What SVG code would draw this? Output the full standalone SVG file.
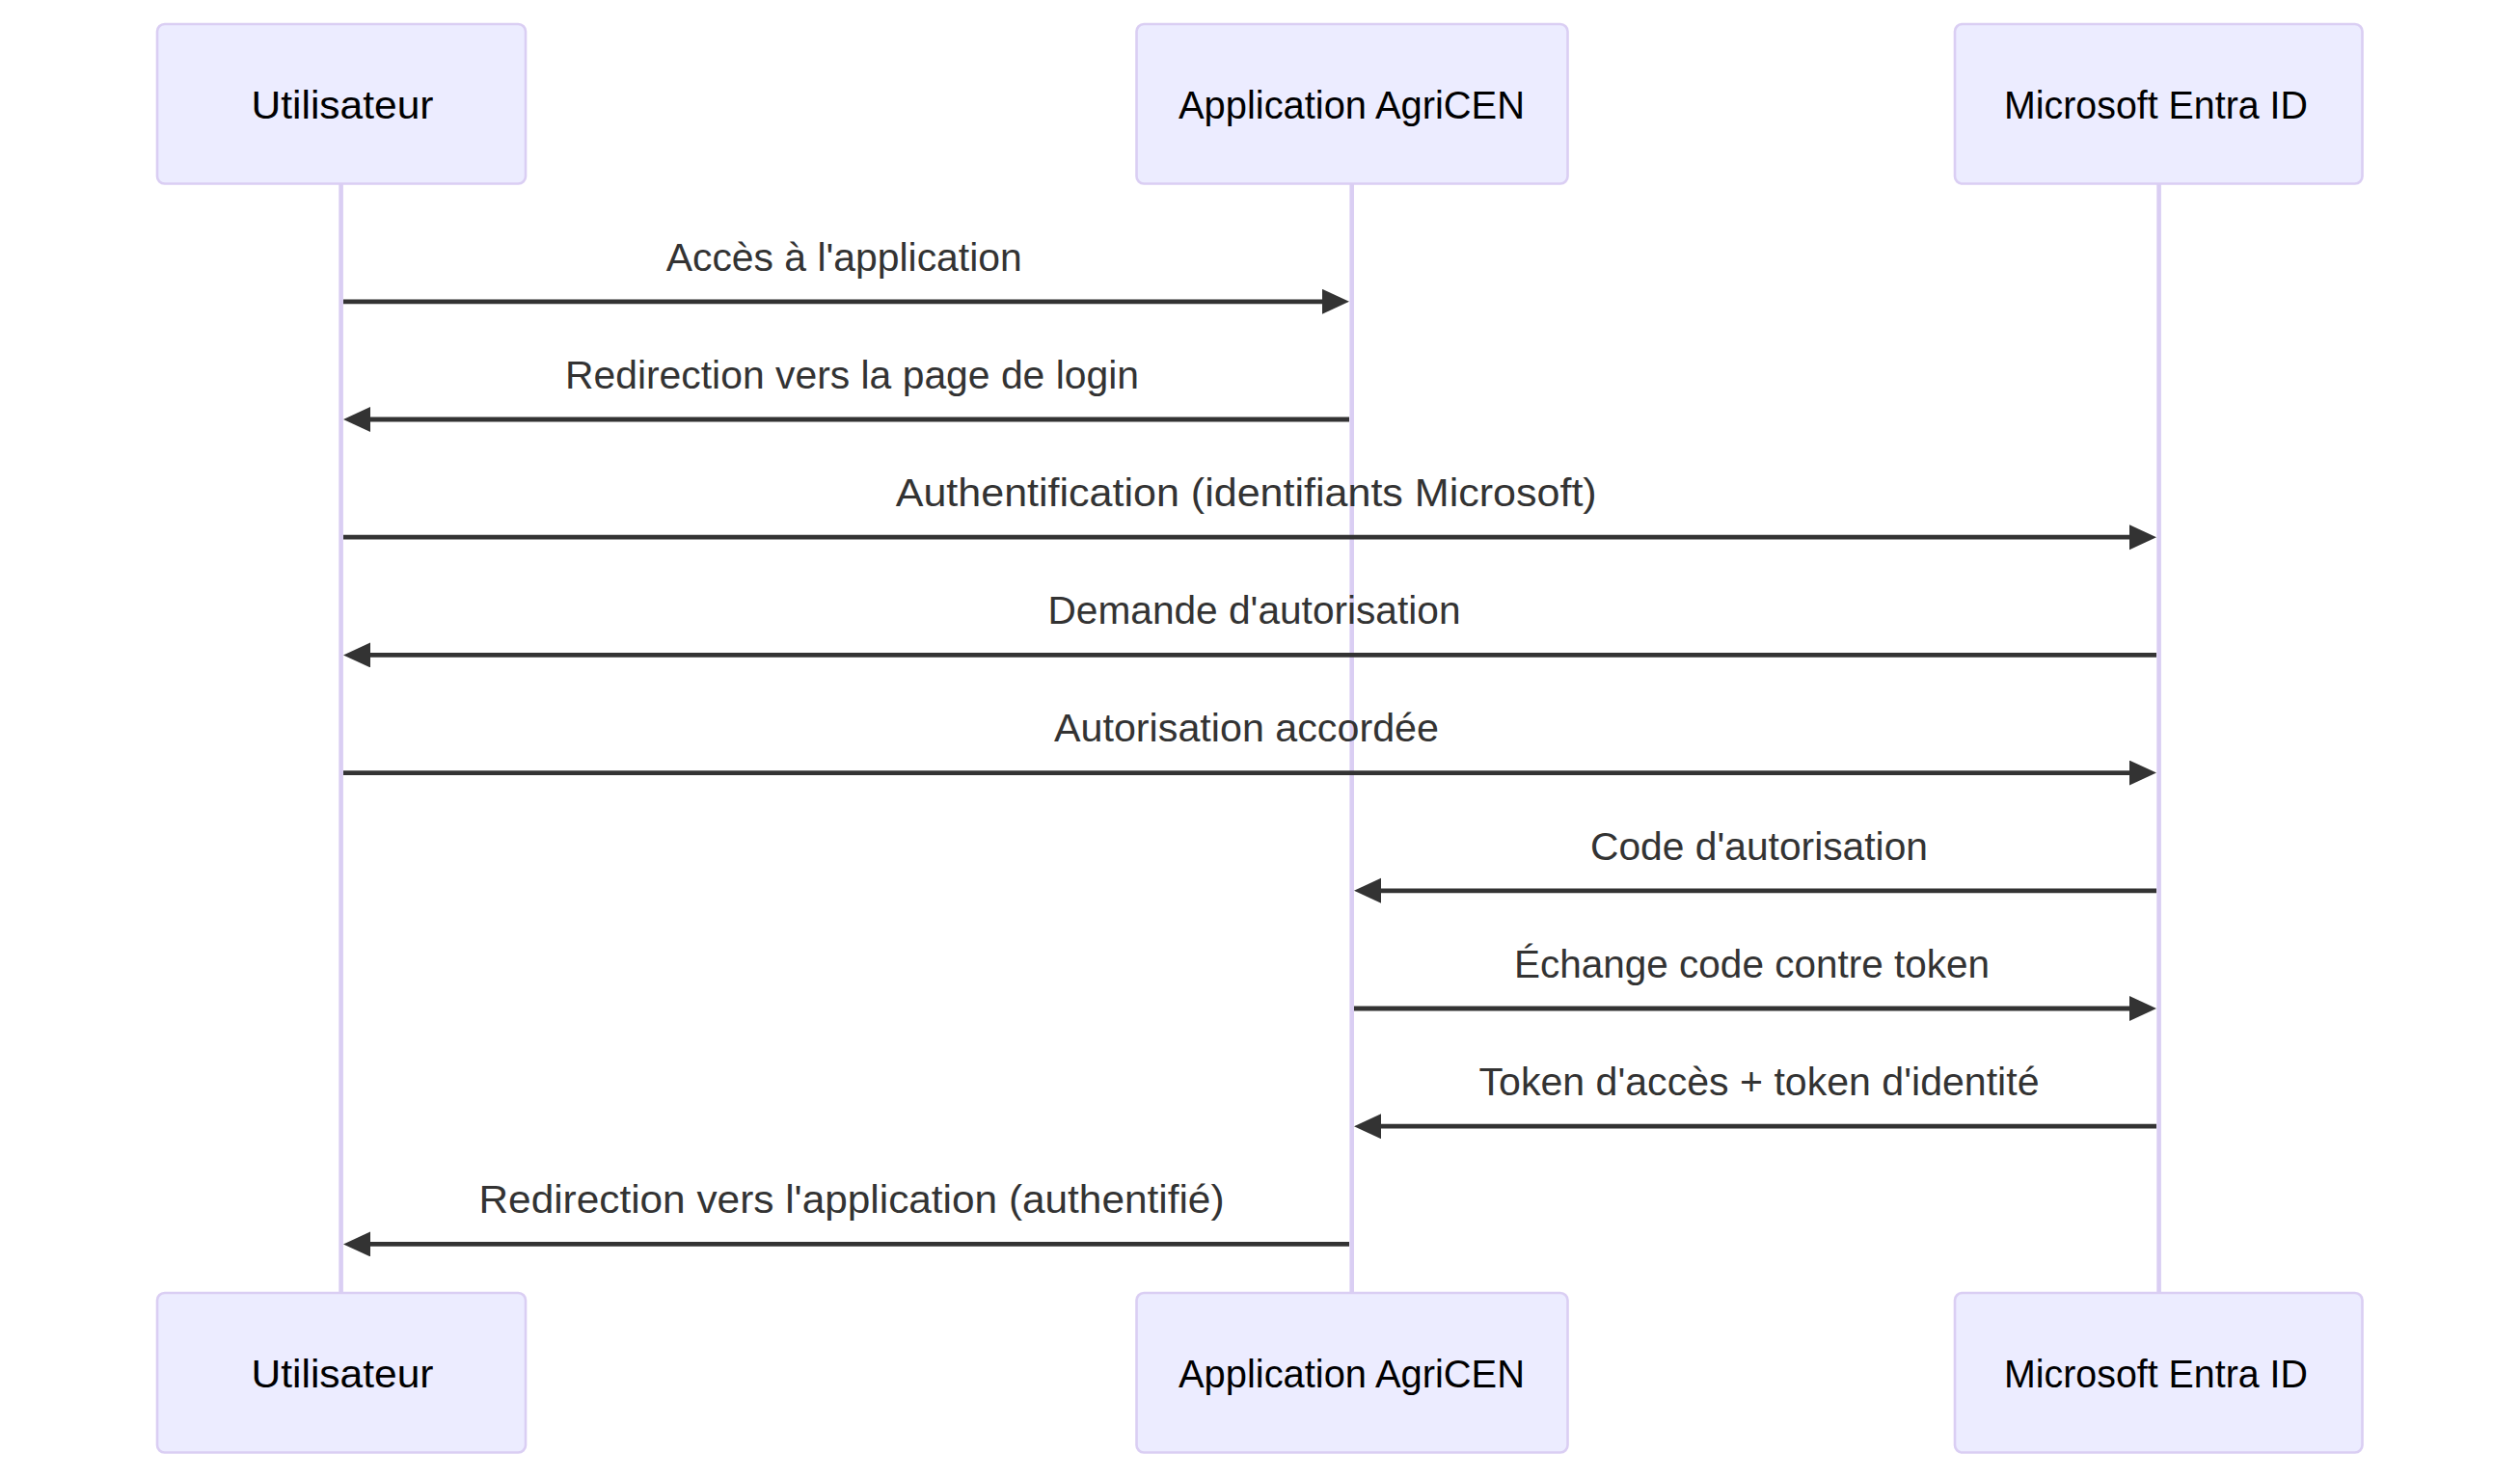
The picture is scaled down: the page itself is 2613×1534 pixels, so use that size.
<svg xmlns="http://www.w3.org/2000/svg" width="2613" height="1534" viewBox="0 0 2613 1534">
<style>
.actor{fill:#ECECFF;stroke:#DACEF3;stroke-width:2.6}
.lifeline{stroke:#DACEF3;stroke-width:4.6;fill:none}
.atext{font-family:"Liberation Sans",Arial,sans-serif;font-size:41px;fill:#000;text-anchor:middle}
.msg{stroke:#333;stroke-width:4.8;fill:none;marker-end:url(#ah)}
.mtext{font-family:"Liberation Sans",Arial,sans-serif;font-size:41px;fill:#333;text-anchor:middle}
</style>
<defs>
<marker id="ah" markerUnits="userSpaceOnUse" markerWidth="30" markerHeight="28" refX="18" refY="13" orient="auto" viewBox="0 0 30 28">
<path d="M0,0 L28,13 L0,26 z" fill="#333"/>
</marker>
</defs>
<rect width="2613" height="1534" fill="#fff"/>
<g id="lifelines">
<line class="lifeline" x1="353.6" y1="191" x2="353.6" y2="1341"/>
<line class="lifeline" x1="1401.7" y1="191" x2="1401.7" y2="1341"/>
<line class="lifeline" x1="2238.6" y1="191" x2="2238.6" y2="1341"/>
</g>
<g id="utilisateur-top"><rect class="actor" x="163" y="25" width="382" height="165.5" rx="7.6"/><text class="atext" x="355" y="123.3" textLength="189" lengthAdjust="spacingAndGlyphs">Utilisateur</text></g>
<g id="app-top"><rect class="actor" x="1178.5" y="25" width="447" height="165.5" rx="7.6"/><text class="atext" x="1401.5" y="123.3" textLength="359" lengthAdjust="spacingAndGlyphs">Application AgriCEN</text></g>
<g id="entra-top"><rect class="actor" x="2027" y="25" width="422.5" height="165.5" rx="7.6"/><text class="atext" x="2235.5" y="123.3" textLength="315" lengthAdjust="spacingAndGlyphs">Microsoft Entra ID</text></g>
<g id="utilisateur-bottom"><rect class="actor" x="163" y="1341" width="382" height="165.5" rx="7.6"/><text class="atext" x="355" y="1439.3" textLength="189" lengthAdjust="spacingAndGlyphs">Utilisateur</text></g>
<g id="app-bottom"><rect class="actor" x="1178.5" y="1341" width="447" height="165.5" rx="7.6"/><text class="atext" x="1401.5" y="1439.3" textLength="359" lengthAdjust="spacingAndGlyphs">Application AgriCEN</text></g>
<g id="entra-bottom"><rect class="actor" x="2027" y="1341" width="422.5" height="165.5" rx="7.6"/><text class="atext" x="2235.5" y="1439.3" textLength="315" lengthAdjust="spacingAndGlyphs">Microsoft Entra ID</text></g>
<g id="connectors">
<line class="msg" x1="356" y1="312.8" x2="1389" y2="312.8"/>
<text class="mtext" x="875.2" y="280.5" textLength="369" lengthAdjust="spacingAndGlyphs">Accès à l'application</text>
<line class="msg" x1="1399" y1="435" x2="366" y2="435"/>
<text class="mtext" x="883.5" y="402.7" textLength="595" lengthAdjust="spacingAndGlyphs">Redirection vers la page de login</text>
<line class="msg" x1="356" y1="557.2" x2="2226" y2="557.2"/>
<text class="mtext" x="1292.2" y="524.9" textLength="727" lengthAdjust="spacingAndGlyphs">Authentification (identifiants Microsoft)</text>
<line class="msg" x1="2236" y1="679.4" x2="366" y2="679.4"/>
<text class="mtext" x="1300.5" y="647.1" textLength="428" lengthAdjust="spacingAndGlyphs">Demande d'autorisation</text>
<line class="msg" x1="356" y1="801.6" x2="2226" y2="801.6"/>
<text class="mtext" x="1292.5" y="769.3" textLength="399" lengthAdjust="spacingAndGlyphs">Autorisation accordée</text>
<line class="msg" x1="2236" y1="923.8" x2="1414" y2="923.8"/>
<text class="mtext" x="1824" y="891.5" textLength="350" lengthAdjust="spacingAndGlyphs">Code d'autorisation</text>
<line class="msg" x1="1404" y1="1046" x2="2226" y2="1046"/>
<text class="mtext" x="1816.5" y="1013.7" textLength="493" lengthAdjust="spacingAndGlyphs">Échange code contre token</text>
<line class="msg" x1="2236" y1="1168.2" x2="1414" y2="1168.2"/>
<text class="mtext" x="1824" y="1135.9" textLength="581" lengthAdjust="spacingAndGlyphs">Token d'accès + token d'identité</text>
<line class="msg" x1="1399" y1="1290.4" x2="366" y2="1290.4"/>
<text class="mtext" x="883" y="1258.1" textLength="773" lengthAdjust="spacingAndGlyphs">Redirection vers l'application (authentifié)</text>
</g>
</svg>
